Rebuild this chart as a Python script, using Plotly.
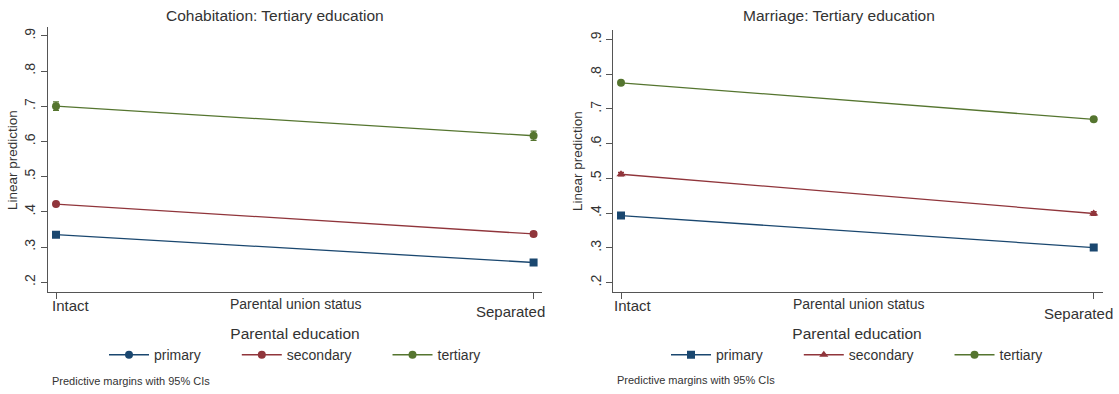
import plotly.graph_objects as go

W, H = 1119, 394
FONT = "Liberation Sans, Arial, sans-serif"

categories = ["Intact", "Separated"]
series_names = ["primary", "secondary", "tertiary"]

# Cohabitation panel (linear predictions + 95% CI half-widths)
cohab_primary = [0.335, 0.256]
cohab_secondary = [0.422, 0.337]
cohab_tertiary = [0.700, 0.616]
cohab_primary_ci = [0.006, 0.006]
cohab_secondary_ci = [0.006, 0.006]
cohab_tertiary_ci = [0.012, 0.013]

# Marriage panel
marr_primary = [0.393, 0.301]
marr_secondary = [0.512, 0.399]
marr_tertiary = [0.775, 0.670]
marr_primary_ci = [0.005, 0.005]
marr_secondary_ci = [0.005, 0.005]
marr_tertiary_ci = [0.005, 0.005]

ytick_vals = [0.2, 0.3, 0.4, 0.5, 0.6, 0.7, 0.8, 0.9]
ytick_text = [".2", ".3", ".4", ".5", ".6", ".7", ".8", ".9"]

colors = {"primary": "#1a476f", "secondary": "#90353b", "tertiary": "#55752f"}

fig = go.Figure()

def px_x(p):
    return p / W

def px_y(p):
    return 1 - p / H

panels = [
    dict(xa="x", ya="y", legend="legend",
         vals=[cohab_primary, cohab_secondary, cohab_tertiary],
         cis=[cohab_primary_ci, cohab_secondary_ci, cohab_tertiary_ci],
         symbols=["square", "circle", "circle"],
         legend_symbols=["circle", "circle", "circle"]),
    dict(xa="x2", ya="y2", legend="legend2",
         vals=[marr_primary, marr_secondary, marr_tertiary],
         cis=[marr_primary_ci, marr_secondary_ci, marr_tertiary_ci],
         symbols=["square", "triangle-up", "circle"],
         legend_symbols=["square", "triangle-up", "circle"]),
]

PAD = "\u00a0" * 8  # spacing between legend entries

for p in panels:
    for name, v, ci, sym, lsym in zip(series_names, p["vals"], p["cis"], p["symbols"], p["legend_symbols"]):
        c = colors[name]
        fig.add_trace(go.Scatter(
            x=categories, y=v, mode="lines+markers", name=name,
            xaxis=p["xa"], yaxis=p["ya"], showlegend=False,
            line=dict(color=c, width=1.3),
            marker=dict(symbol=sym, size=8, color=c),
            error_y=dict(type="data", array=ci, visible=True, color=c, thickness=1.3, width=3),
        ))
        # legend entry
        fig.add_trace(go.Scatter(
            x=[None], y=[None], mode="lines+markers",
            name=name + (PAD if name != series_names[-1] else ""),
            xaxis=p["xa"], yaxis=p["ya"], legend=p["legend"], showlegend=True,
            line=dict(color=c, width=1.3),
            marker=dict(symbol=lsym, size=8, color=c),
        ))

axis_common = dict(showline=True, linecolor="#555555", linewidth=1, showgrid=False,
                   zeroline=False, ticks="outside", tickcolor="#555555", ticklen=6)

fig.update_layout(
    xaxis=dict(domain=[px_x(47.7), px_x(541.7)], anchor="y", type="category",
               range=[-0.0174, 1.017], showticklabels=False, **axis_common),
    yaxis=dict(domain=[px_y(291.7), px_y(27)], anchor="x", range=[0.173, 0.925],
               tickvals=ytick_vals, ticktext=ytick_text, tickangle=-90,
               tickfont=dict(size=14, color="#333"),
               **axis_common),
    xaxis2=dict(domain=[px_x(613.3), px_x(1102.7)], anchor="y2", type="category",
                range=[-0.0163, 1.019], showticklabels=False, **axis_common),
    yaxis2=dict(domain=[px_y(291.7), px_y(30)], anchor="x2", range=[0.174, 0.927],
                tickvals=ytick_vals, ticktext=ytick_text, tickangle=-90,
                tickfont=dict(size=14, color="#333"),
                **axis_common),
)

leg_common = dict(orientation="h", xanchor="center", yanchor="top",
                  font=dict(size=14, color="#333", family=FONT),
                  bgcolor="rgba(0,0,0,0)", itemwidth=40,
                  title=dict(text="Parental education", side="top center",
                             font=dict(size=15.5, color="#333", family=FONT)))
fig.update_layout(
    legend=dict(x=px_x(295), y=px_y(319), **leg_common),
    legend2=dict(x=px_x(857), y=px_y(319), **leg_common),
)

ann = []
def text_ann(text, x, y, size, xanchor="center", xref="paper", xshift=0, angle=0):
    ann.append(dict(text=text, x=x, y=y, xref=xref, yref="paper", showarrow=False,
                    xanchor=xanchor, yanchor="middle", xshift=xshift, textangle=angle,
                    font=dict(size=size, color="#333", family=FONT)))

# titles
text_ann("Cohabitation: Tertiary education", px_x(275), px_y(15), 15.5)
text_ann("Marriage: Tertiary education", px_x(839), px_y(15), 15.5)
# y axis titles
text_ann("Linear prediction", px_x(12), px_y(160), 13.5, angle=-90)
text_ann("Linear prediction", px_x(578), px_y(161), 13.5, angle=-90)
# x axis titles
text_ann("Parental union status", px_x(296), px_y(304), 14)
text_ann("Parental union status", px_x(859), px_y(304), 14)
# category tick labels
text_ann(categories[0], 0, px_y(305), 15, xanchor="left", xref="x", xshift=-6)
text_ann(categories[1], 1, px_y(311), 15, xanchor="right", xref="x", xshift=13)
text_ann(categories[0], 0, px_y(305), 15, xanchor="left", xref="x2", xshift=-9)
text_ann(categories[1], 1, px_y(313), 15, xanchor="right", xref="x2", xshift=21)
# notes
text_ann("Predictive margins with 95% CIs", px_x(50), px_y(381), 11, xanchor="left")
text_ann("Predictive margins with 95% CIs", px_x(615), px_y(380), 11, xanchor="left")

fig.update_layout(
    annotations=ann,
    width=W, height=H, autosize=False,
    margin=dict(l=0, r=0, t=0, b=0),
    paper_bgcolor="white", plot_bgcolor="white",
    font=dict(family=FONT, color="#333"),
)

fig.write_html("out.html")
